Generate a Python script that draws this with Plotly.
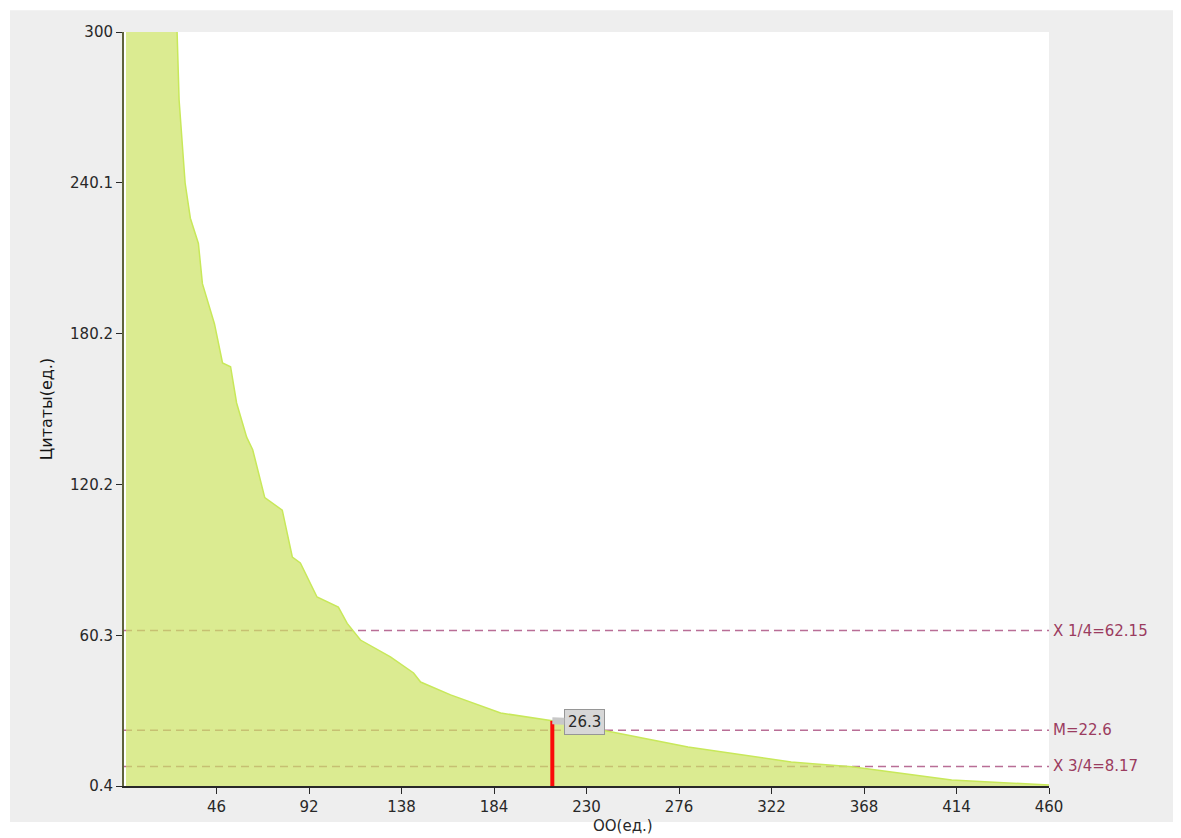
import plotly.graph_objects as go

# кривая: ранг ОО -> число цитат (выше 300 обрезано осью)
ranks = [1, 8, 15, 22, 26.4, 27.4, 30.4, 33, 37, 39, 45, 49, 53, 56, 61, 64, 70, 78.7,
         83.7, 87.7, 96, 106.6, 111, 117.6, 132.5, 144, 147.5, 162.4, 187.3, 210.7,
         213, 242, 280.5, 331.8, 362, 411.6, 460]
cites = [1450, 620, 430, 340, 300, 273, 240, 226, 216, 200, 184, 168.5, 167, 152.6, 139,
         134, 115, 110, 91.4, 89, 75.5, 71.5, 65, 58.4, 51.7, 45.3, 41.7, 36.6, 29.4, 26.6,
         26.3, 22.0, 15.9, 9.9, 8.0, 2.8, 0.8]

# отмеченная точка
mark_rank = 213
mark_value = 26.3

# квартили / медиана
stat_values = [62.15, 22.6, 8.17]
stat_labels = ["X 1/4=62.15", "M=22.6", "X 3/4=8.17"]

x_ticks = [46, 92, 138, 184, 230, 276, 322, 368, 414, 460]
y_ticks = [0.4, 60.3, 120.2, 180.2, 240.1, 300]
y_ticktext = ["0.4", "60.3", "120.2", "180.2", "240.1", "300"]

FONT = "DejaVu Sans"
TXT = "rgb(40,40,40)"

fig = go.Figure()

# полупрозрачная заливка, чтобы пунктир под ней казался оливковым
fig.add_trace(go.Scatter(
    x=ranks, y=cites, mode="lines",
    fill="tozeroy", fillcolor="rgba(204,226,99,0.7)",
    line=dict(color="rgb(200,232,90)", width=1.5),
    showlegend=False, hoverinfo="skip"))

fig.add_trace(go.Scatter(
    x=[mark_rank, mark_rank], y=[0, mark_value], mode="lines",
    line=dict(color="rgb(250,10,10)", width=4),
    showlegend=False, hoverinfo="skip"))

for v, t in zip(stat_values, stat_labels):
    fig.add_shape(type="line", xref="x", yref="y", x0=0, x1=460, y0=v, y1=v,
                  line=dict(color="rgb(185,110,150)", width=1.5, dash="8px,5px"),
                  layer="below")
    fig.add_annotation(x=1, xref="paper", y=v, yref="y", text=t, showarrow=False,
                       xanchor="left", xshift=2,
                       font=dict(family=FONT, size=15, color="rgb(155,60,95)"))

fig.add_annotation(x=mark_rank, y=mark_value, text="26.3", showarrow=True,
                   arrowhead=0, arrowwidth=7, arrowcolor="rgb(200,200,200)",
                   ax=32, ay=1, standoff=0,
                   bgcolor="rgb(215,215,215)", bordercolor="rgb(150,150,150)",
                   borderwidth=1, borderpad=3,
                   font=dict(family=FONT, size=15, color=TXT))

# рамка: серая подложка с белыми полями вокруг
for x0, x1, y0, y1 in [(-0.2, 1.3, -0.1, -0.0477), (-0.2, 1.3, 1.029, 1.1),
                       (-0.2, -0.1232, -0.1, 1.1)]:
    fig.add_shape(type="rect", xref="paper", yref="paper", x0=x0, x1=x1, y0=y0, y1=y1,
                  fillcolor="white", line=dict(width=0), layer="below")

fig.add_annotation(x=(623 - 124) / 925, xref="paper", y=0, yref="paper", text="ОО(ед.)",
                   showarrow=False, yanchor="bottom", yshift=-51,
                   font=dict(family=FONT, size=15, color=TXT))

fig.update_xaxes(range=[0, 460], tickvals=x_ticks, ticks="outside", ticklen=6,
                 tickcolor=TXT, showline=True, linecolor=TXT,
                 linewidth=2, showgrid=False, zeroline=False,
                 tickfont=dict(family=FONT, size=15, color=TXT))
fig.update_yaxes(range=[0.4, 300], tickvals=y_ticks, ticktext=y_ticktext,
                 ticks="outside", ticklen=6, tickcolor=TXT,
                 showline=True, linecolor="rgb(95,100,60)", linewidth=2,
                 showgrid=False, zeroline=False,
                 title=dict(text="Цитаты(ед.)", standoff=13,
                            font=dict(family=FONT, size=16, color="rgb(20,20,20)")),
                 tickfont=dict(family=FONT, size=15, color=TXT))

# страница добавляет 8px отступа — компенсируем
fig.update_layout(
    width=1173, height=830,
    margin=dict(l=116, r=132, t=24, b=52),
    paper_bgcolor="rgb(238,238,238)", plot_bgcolor="white",
    font=dict(family=FONT))

fig.write_html("out.html")
